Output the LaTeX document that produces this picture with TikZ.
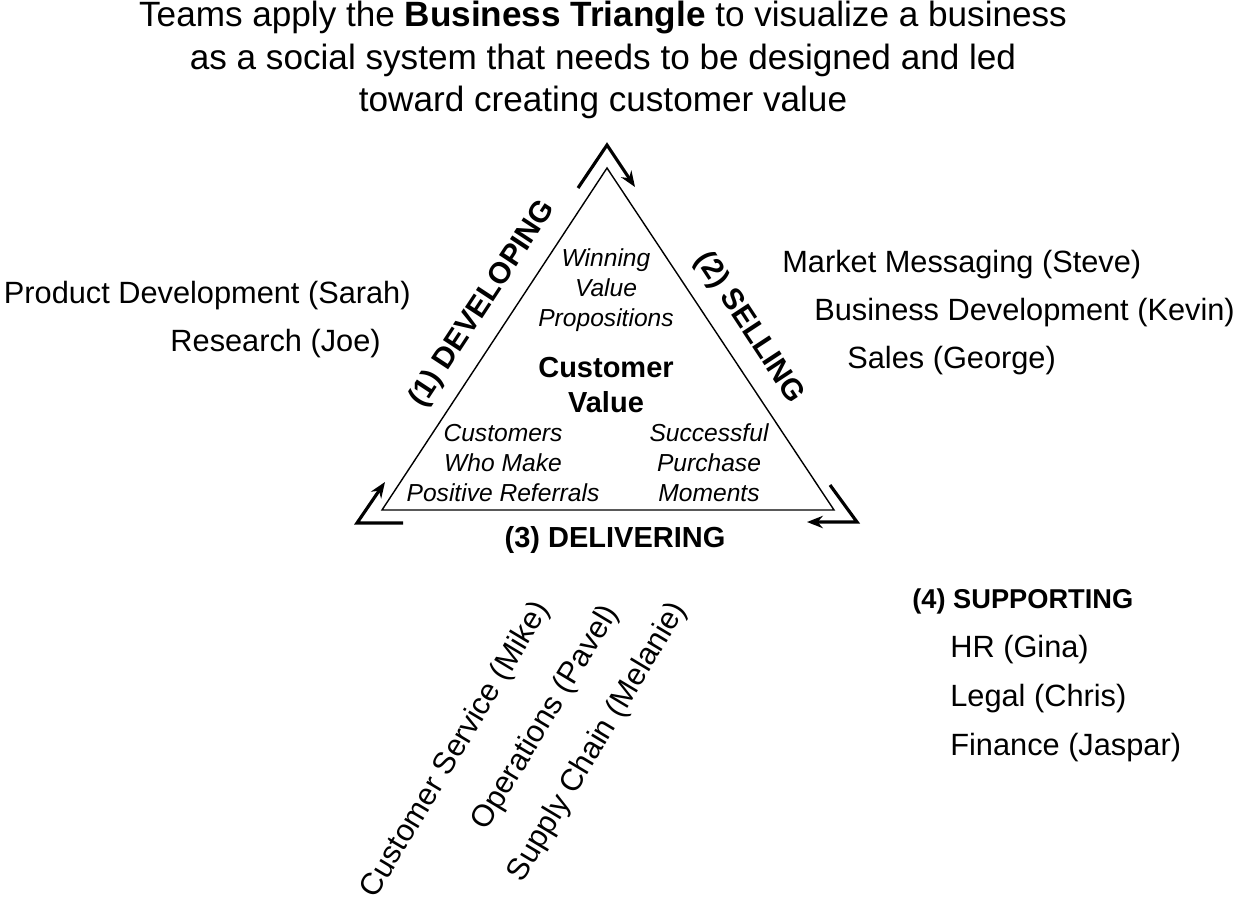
\documentclass[tikz,border=0pt]{standalone}
\usepackage{fontspec}
\setmainfont{Liberation Sans}
\usetikzlibrary{arrows.meta}
\begin{document}
\begin{tikzpicture}[x=0.02cm,y=-0.02cm,
  label/.style={font=\fontsize{17.5}{20}\selectfont,inner sep=0pt},
  inner/.style={font=\fontsize{14}{17}\selectfont\itshape,align=center,inner sep=0pt},
  side/.style={font=\fontsize{17}{20}\selectfont\bfseries,inner sep=0pt},
  turn/.style={line width=1.8pt,-{Stealth[length=9pt,width=7pt]}}]
\useasboundingbox (0,0) rectangle (1236,904);
% title
\node[font=\fontsize{20}{24}\selectfont,align=center] (title) at (603,60)
  {Teams apply the \textbf{Business Triangle} to visualize a business\\
   as a social system that needs to be designed and led\\
   toward creating customer value};
% triangle
\coordinate (top) at (607,168);
\coordinate (bl) at (382,510);
\coordinate (br) at (834,510);
\draw[line width=0.8pt] (top) -- (br) -- (bl) -- cycle;
% turning arrows
\coordinate (t1) at (578,188);
\coordinate (t2) at (607,145);
\coordinate (t3) at (635,187);
\draw[turn] (t1) -- (t2) -- (t3);
\coordinate (r1) at (830,485);
\coordinate (r2) at (857,522);
\coordinate (r3) at (807,522);
\draw[turn] (r1) -- (r2) -- (r3);
\coordinate (l1) at (403,523);
\coordinate (l2) at (357,523);
\coordinate (l3) at (385,482);
\draw[turn] (l1) -- (l2) -- (l3);
% inside
\node[inner] (win) at (606,290) {Winning\\Value\\Propositions};
\node[font=\fontsize{16.5}{19.5}\selectfont\bfseries,align=center] (cv) at (606,385) {Customer\\Value};
\node[inner] (ref) at (503,463) {Customers\\Who Make\\Positive Referrals};
\node[inner] (buy) at (709,463) {Successful\\Purchase\\Moments};
% sides
\node[side,rotate=56.7] (dev) at (483,304) {(1) DEVELOPING};
\node[side,rotate=-56.7] (sel) at (749,328) {(2) SELLING};
\node[side,font=\fontsize{16.5}{19}\selectfont\bfseries] (del) at (615,540) {(3) DELIVERING};
% teams
\node[label,anchor=east] (pd) at (411,296) {Product Development (Sarah)};
\node[label,anchor=east] (rs) at (381,344) {Research (Joe)};
\node[label,anchor=west] (mm) at (782,265) {Market Messaging (Steve)};
\node[label,anchor=west] (bd) at (814,313) {Business Development (Kevin)};
\node[label,anchor=west] (sa) at (847,361) {Sales (George)};
\node[label,rotate=59] (cs) at (456,750) {Customer Service (Mike)};
\node[label,rotate=59] (op) at (546,718) {Operations (Pavel)};
\node[label,rotate=59] (sc) at (598,742) {Supply Chain (Melanie)};
\node[side,font=\fontsize{15.5}{18}\selectfont\bfseries,anchor=west] (sup) at (912,601) {(4) SUPPORTING};
\node[label,anchor=west] (hr) at (950,650) {HR (Gina)};
\node[label,anchor=west] (lg) at (950,699) {Legal (Chris)};
\node[label,anchor=west] (fi) at (950,748) {Finance (Jaspar)};
\end{tikzpicture}
\end{document}
